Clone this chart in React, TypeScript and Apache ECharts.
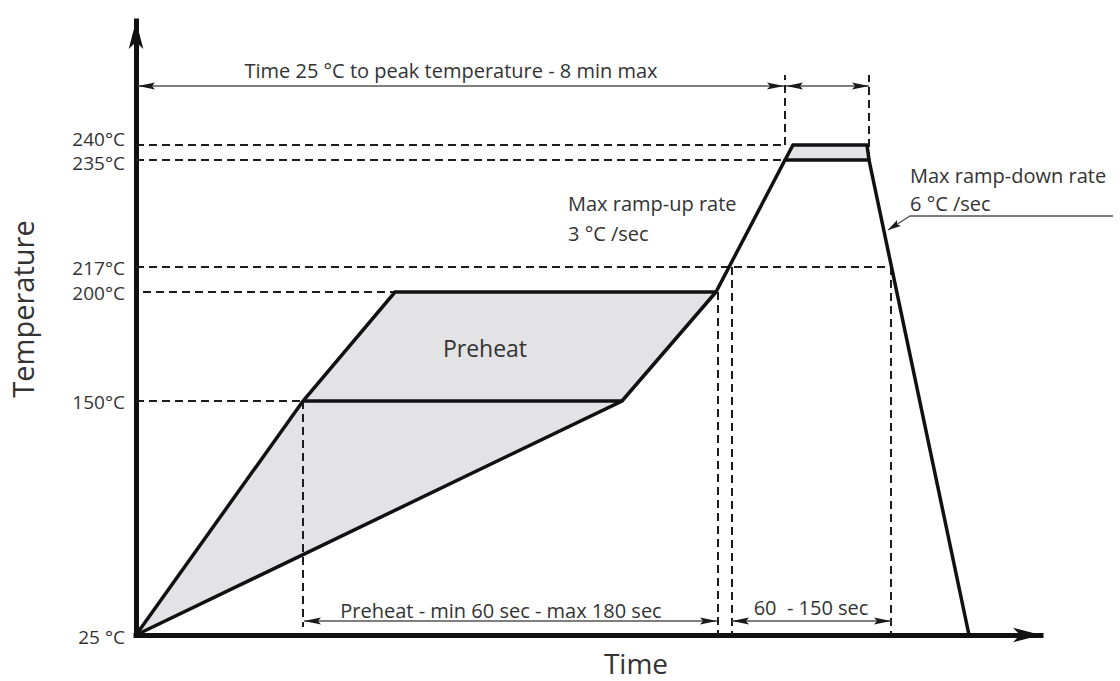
import React, { useEffect, useRef } from "react";
import * as echarts from "echarts";

const FONT = '"Open Sans", "Noto Sans", sans-serif';
const INK = "#111111";
const TEXT = "#333333";

// Vertical axis: labelled temperatures and their height in the (not-to-scale) diagram
const tempLabels = ["25 °C", "150°C", "200°C", "217°C", "235°C", "240°C"];
const tempLevels = [0, 234, 343, 368, 475, 490];

// Profile outlines as [time position, level] pairs (schematic diagram units)
const fastPreheatEdge = [[0, 0], [167, 234], [259, 343], [580, 343]];
const slowPreheatEdge = [[0, 0], [486, 234], [580, 343]];
const soakFloorEdge = [[167, 234], [486, 234]];
const reflowEdge = [[580, 343], [649, 475], [733, 475], [833, 0]];
const peakTopEdge = [[649, 475], [657, 490], [731, 490], [733, 475]];

// Shaded zones (preheat window, peak window)
const shadedZones = [
  [[0, 0], [167, 234], [259, 343], [580, 343], [486, 234]],
  [[649, 475], [657, 490], [731, 490], [733, 475]],
];

// Dashed guide lines [x1, y1, x2, y2]
const guideSegments = [
  [0, 490, 649, 490],
  [0, 475, 649, 475],
  [0, 368, 755, 368],
  [7, 343, 581, 343],
  [0, 234, 167, 234],
  [167, 234, 167, 8],
  [582, 343, 582, 0],
  [596, 368, 596, 0],
  [755, 368, 755, 0],
  [649, 490, 649, 560],
  [733, 475, 733, 560],
];

// Double-headed dimension arrows [x1, y1, x2, y2]
const spanSegments = [
  [2, 549, 648, 549],
  [650, 549, 733, 549],
  [168, 14, 581, 14],
  [596, 14, 755, 14],
];

// Leader to the ramp-down slope
const leaderPath = [[977, 419], [774, 419], [752, 405]];

const noteTexts = [
  "Time 25 °C to peak temperature - 8 min max",
  "Preheat",
  "Max ramp-up rate",
  "3 °C /sec",
  "Max ramp-down rate",
  "6 °C /sec",
  "Preheat - min 60 sec - max 180 sec",
  "60  - 150 sec",
];

function arrowHead(tip: number[], from: number[], len: number, wid: number) {
  const dx = tip[0] - from[0];
  const dy = tip[1] - from[1];
  const d = Math.hypot(dx, dy) || 1;
  const ux = dx / d, uy = dy / d;
  const nx = -uy, ny = ux;
  const bx = tip[0] - ux * len, by = tip[1] - uy * len;
  const mx = tip[0] - ux * len * 0.82, my = tip[1] - uy * len * 0.82;
  return [
    [tip[0], tip[1]],
    [bx + (nx * wid) / 2, by + (ny * wid) / 2],
    [mx, my],
    [bx - (nx * wid) / 2, by - (ny * wid) / 2],
  ];
}

export default function App() {
  const ref = useRef<HTMLDivElement>(null);

  useEffect(() => {
    if (!ref.current) return;
    const chart = echarts.init(ref.current, undefined, { renderer: "svg" });

    const noteLayout = [
      { at: [315, 565], align: "center", size: 20 },
      { at: [349, 287], align: "center", size: 23 },
      { at: [432, 432], align: "left", size: 20 },
      { at: [432, 402], align: "left", size: 20 },
      { at: [774, 460], align: "left", size: 20 },
      { at: [774, 432], align: "left", size: 20 },
      { at: [365, 25], align: "center", size: 20 },
      { at: [675, 28], align: "center", size: 20 },
    ];
    // small vertical nudges so the two tightly stacked peak labels stay apart
    const tickNudge = [2, 1, 1, 1, 3, -6];

    const profileLine = (data: number[][]) => ({
      type: "line",
      data,
      showSymbol: false,
      symbol: "none",
      clip: false,
      silent: true,
      z: 4,
      lineStyle: { color: INK, width: 3.5, join: "miter", cap: "butt" },
    });

    const axisLine = {
      show: true,
      onZero: false,
      symbol: ["none", "arrow"],
      symbolSize: [11, 28],
      lineStyle: { color: INK, width: 5, cap: "square" },
    };

    const option: any = {
      animation: false,
      backgroundColor: "#ffffff",
      grid: { left: 136, right: 79, top: 21, bottom: 46, containLabel: false },
      xAxis: {
        type: "value",
        min: 0,
        max: 905,
        axisLine,
        axisTick: { show: false },
        axisLabel: { show: false },
        splitLine: { show: false },
      },
      yAxis: {
        type: "value",
        min: 0,
        max: 614,
        axisLine,
        axisTick: { show: false },
        axisLabel: { show: false },
        splitLine: { show: false },
      },
      graphic: [
        {
          type: "text",
          x: 22,
          y: 309,
          rotation: Math.PI / 2,
          style: {
            text: "Temperature",
            fill: TEXT,
            fontSize: 29,
            fontFamily: FONT,
            align: "center",
            verticalAlign: "middle",
          },
        },
        {
          type: "text",
          x: 636,
          y: 663,
          style: {
            text: "Time",
            fill: TEXT,
            fontSize: 28,
            fontFamily: FONT,
            align: "center",
            verticalAlign: "middle",
          },
        },
      ],
      series: [
        {
          type: "custom",
          coordinateSystem: "cartesian2d",
          silent: true,
          clip: false,
          z: 1,
          data: shadedZones.map((_, i) => [i, 0]),
          renderItem: (params: any, api: any) => {
            const pts = shadedZones[params.dataIndex].map((p) => api.coord(p));
            return {
              type: "polygon",
              shape: { points: pts },
              style: { fill: "#e3e3e6", stroke: "none" },
            };
          },
        },
        {
          type: "custom",
          coordinateSystem: "cartesian2d",
          silent: true,
          clip: false,
          z: 2,
          data: guideSegments,
          encode: { x: [0, 2], y: [1, 3] },
          renderItem: (params: any, api: any) => {
            const a = api.coord([api.value(0), api.value(1)]);
            const b = api.coord([api.value(2), api.value(3)]);
            return {
              type: "line",
              shape: { x1: a[0], y1: a[1], x2: b[0], y2: b[1] },
              style: { stroke: "#1c1c1c", lineWidth: 2, lineDash: [8, 5], fill: "none" },
            };
          },
        },
        profileLine(fastPreheatEdge),
        profileLine(slowPreheatEdge),
        profileLine(soakFloorEdge),
        profileLine(reflowEdge),
        profileLine(peakTopEdge),
        {
          type: "custom",
          coordinateSystem: "cartesian2d",
          silent: true,
          clip: false,
          z: 3,
          data: spanSegments,
          encode: { x: [0, 2], y: [1, 3] },
          renderItem: (params: any, api: any) => {
            const a = api.coord([api.value(0), api.value(1)]);
            const b = api.coord([api.value(2), api.value(3)]);
            return {
              type: "group",
              children: [
                {
                  type: "line",
                  shape: { x1: a[0], y1: a[1], x2: b[0], y2: b[1] },
                  style: { stroke: "#555555", lineWidth: 1.3 },
                },
                {
                  type: "polygon",
                  shape: { points: arrowHead(a, b, 17, 7) },
                  style: { fill: "#1a1a1a" },
                },
                {
                  type: "polygon",
                  shape: { points: arrowHead(b, a, 17, 7) },
                  style: { fill: "#1a1a1a" },
                },
              ],
            };
          },
        },
        {
          type: "custom",
          coordinateSystem: "cartesian2d",
          silent: true,
          clip: false,
          z: 3,
          data: [[0, 0]],
          renderItem: (params: any, api: any) => {
            const pts = leaderPath.map((p) => api.coord(p));
            const n = pts.length;
            return {
              type: "group",
              children: [
                {
                  type: "polyline",
                  shape: { points: pts },
                  style: { stroke: "#555555", lineWidth: 1.3, fill: "none" },
                },
                {
                  type: "polygon",
                  shape: { points: arrowHead(pts[n - 1], pts[n - 2], 13, 7) },
                  style: { fill: "#1a1a1a" },
                },
              ],
            };
          },
        },
        {
          // temperature tick labels on the vertical axis
          type: "custom",
          coordinateSystem: "cartesian2d",
          silent: true,
          clip: false,
          z: 5,
          data: tempLevels.map((v) => [0, v]),
          renderItem: (params: any, api: any) => {
            const p = api.coord([api.value(0), api.value(1)]);
            return {
              type: "text",
              x: p[0] - 11,
              y: p[1] + tickNudge[params.dataIndex],
              style: {
                text: tempLabels[params.dataIndex],
                fill: TEXT,
                fontSize: 19,
                lineHeight: 16,
                fontFamily: FONT,
                align: "right",
                verticalAlign: "middle",
              },
            };
          },
        },
        {
          type: "custom",
          coordinateSystem: "cartesian2d",
          silent: true,
          clip: false,
          z: 5,
          data: noteTexts.map((_, i) => [i, 0]),
          renderItem: (params: any, api: any) => {
            const i = params.dataIndex;
            const lay = noteLayout[i];
            const p = api.coord(lay.at);
            return {
              type: "text",
              x: p[0],
              y: p[1],
              style: {
                text: noteTexts[i],
                fill: TEXT,
                fontSize: lay.size,
                fontFamily: FONT,
                align: lay.align,
                verticalAlign: "middle",
              },
            };
          },
        },
      ],
    };

    chart.setOption(option);
    return () => chart.dispose();
  }, []);

  return (
    <div
      ref={ref}
      style={{ position: "absolute", left: 0, top: 0, width: 1120, height: 681, background: "#fff" }}
    />
  );
}
